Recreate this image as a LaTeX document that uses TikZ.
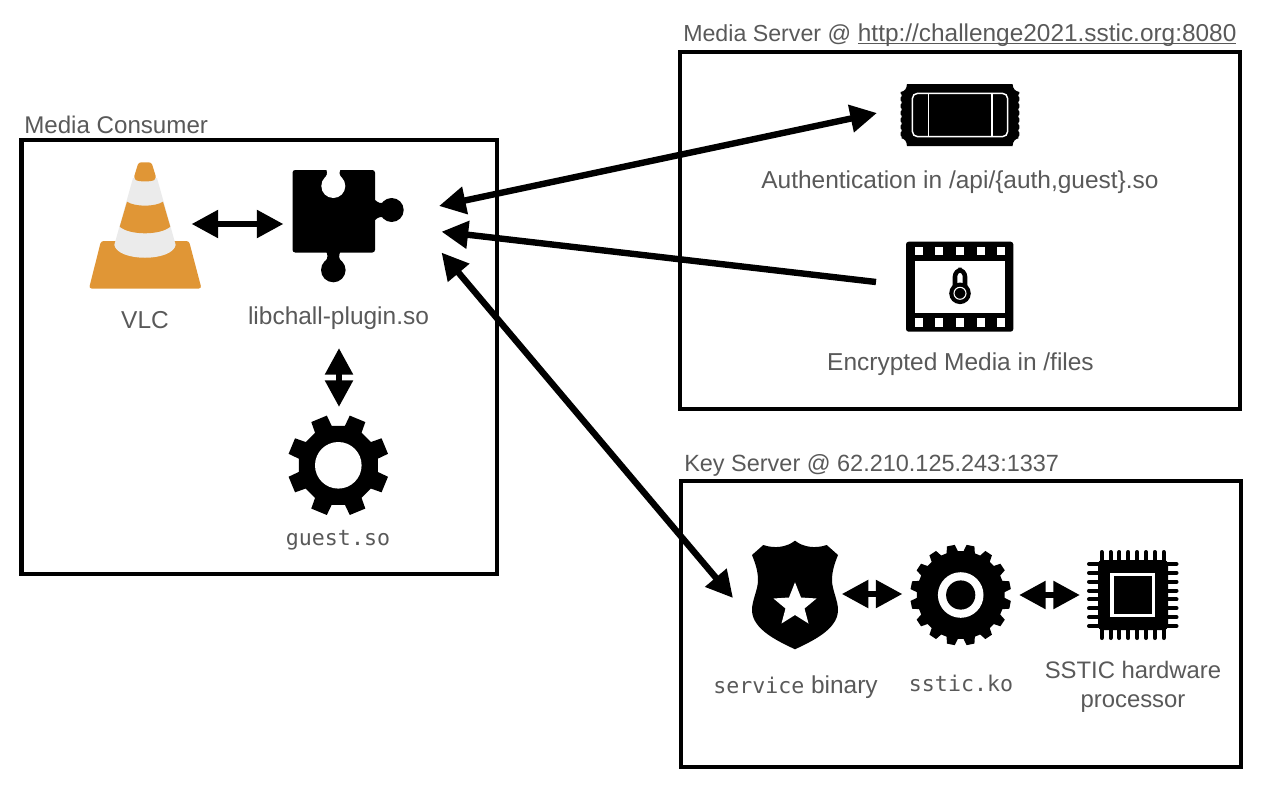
\documentclass[tikz,border=0pt]{standalone}
\usepackage{fontspec}
\setmainfont{Liberation Sans}
\setmonofont{DejaVu Sans Mono}
\usetikzlibrary{arrows.meta}
\definecolor{labelgray}{rgb}{0.35,0.35,0.35}
\definecolor{coneorange}{rgb}{0.88,0.59,0.21}
\definecolor{conewhite}{rgb}{0.92,0.92,0.92}
\tikzset{
  serverbox/.style={draw=black,line width=3.4pt},
  caption/.style={text=labelgray,font=\fontsize{18.35}{21.6}\selectfont,inner sep=0pt,align=center},
  monocap/.style={text=labelgray,font=\fontsize{16.2}{20}\ttfamily,inner sep=0pt},
  link/.style={line width=4.8pt,draw=black},
  bothway/.style={link,{Triangle[length=20pt,width=20pt]}-{Triangle[length=20pt,width=20pt]}},
  oneway/.style={link,-{Triangle[length=20pt,width=20pt]}}
}
\newsavebox{\urlbox}
\newcommand{\urlline}[1]{\sbox\urlbox{#1}\usebox\urlbox\llap{\rule[-2.2pt]{\wd\urlbox}{0.8pt}}}
% #1,#2 centre, #3 teeth, #4 offset, #5 outer, #6 root, #7 half top, #8 half base
\newcommand{\gearicon}[8]{
  \begin{scope}[shift={(#1,#2)}]
    \fill[black] (#4-#8:#6) \foreach \k in {1,...,#3} {
      -- ({#4+(\k-1)*360/#3-#8}:#6) -- ({#4+(\k-1)*360/#3-#7}:#5)
      -- ({#4+(\k-1)*360/#3+#7}:#5) -- ({#4+(\k-1)*360/#3+#8}:#6)
    } -- cycle;
  \end{scope}
}
\begin{document}
\begin{tikzpicture}[x=0.75pt,y=-0.75pt]
\useasboundingbox (0,0) rectangle (1261,789);

% the three hosts
\node (consumerbox) [serverbox,minimum width=356.5pt,minimum height=325.5pt,inner sep=0pt] at (259.3,357.2) {};
\node (mediabox) [serverbox,minimum width=420pt,minimum height=267.75pt,inner sep=0pt] at (960,230.5) {};
\node (keybox) [serverbox,minimum width=420pt,minimum height=214.5pt,inner sep=0pt] at (961,624) {};
\node (consumertxt) [caption,anchor=west,font=\fontsize{18.1}{21}\selectfont] at (24,125) {Media Consumer};
\node (mediatxt) [caption,anchor=west] at (683,35) {\fontsize{17.4}{21}\selectfont Media Server @\hspace{5pt}\fontsize{18.3}{21}\selectfont\urlline{http://challenge2021.sstic.org:8080}};
\node (keytxt) [caption,anchor=west,font=\fontsize{17.6}{21}\selectfont] at (684,465) {Key Server @ 62.210.125.243:1337};

% cone
\fill[coneorange,rounded corners=2pt] (101,241) -- (189,241) -- (201.5,288.5) -- (89,288.5) -- cycle;
\fill[conewhite] (133,178) -- (157,178) -- (175.7,245) .. controls (172,262) and (118,262) .. (114.3,245) -- cycle;
\fill[coneorange,rounded corners=2pt] (138.5,162.3) -- (151.5,162.3) -- (156.3,178) .. controls (152,182) and (138,182) .. (133.7,178) -- cycle;
\fill[coneorange] (127,201.7) .. controls (135,207) and (155,207) .. (163,201.7) -- (170.3,226.7) .. controls (160,235.5) and (130,235.5) .. (119.7,226.7) -- cycle;

% puzzle piece
\fill[black,rounded corners=2pt] (292.5,170) rectangle (375,252.5);
\fill[white] (333.3,186) circle[radius=12];
\fill[white] (326,168) .. controls (327,171) and (328,174) .. (325.5,177) -- (341,177) .. controls (338.6,174) and (339.6,171) .. (340.7,168) -- cycle;
\fill[black] (374,199) .. controls (378,203) and (381,204) .. (385,202) -- (385,218) .. controls (381,216) and (378,217) .. (374,221) -- cycle;
\fill[black] (391.7,210) circle[radius=12];
\fill[black] (326,251) .. controls (328,255) and (328,258) .. (325.5,261) -- (341,261) .. controls (338.6,258) and (338.6,255) .. (340.7,251) -- cycle;
\fill[black] (333.3,270) circle[radius=12.3];

% plain gear
\gearicon{338.3}{465.3}{8}{22.5}{51}{40}{9.5}{13}
\fill[white] (338.3,465.3) circle[radius=23.3];

% ticket
\fill[black] (907,84) -- (1012.5,84) .. controls (1013,89) and (1015,91) .. (1019.3,92) -- (1019.3,138) .. controls (1015,139) and (1013,141) .. (1012.5,146) -- (907,146) .. controls (906.5,141) and (905,139) .. (900.7,138) -- (900.7,92) .. controls (905,91) and (906.5,89) .. (907,84) -- cycle;
\foreach \yy in {95.5,102.5,109.5,116.5,123.5,130.5,137.5}{
  \fill[white] (899.7,\yy) circle[radius=2];
  \fill[white] (1020.3,\yy) circle[radius=2];
}
\draw[white,line width=1.1pt,rounded corners=4pt] (912.3,93.3) rectangle (1007.7,136.7);
\draw[white,line width=1.1pt] (928.7,93.3) -- (928.7,136.7);
\draw[white,line width=1.1pt] (992,93.3) -- (992,136.7);

% film strip and lock
\fill[black,rounded corners=2pt] (906,241.7) rectangle (1013.3,331.7);
\fill[white] (915,260.7) rectangle (1005,312.7);
\foreach \xx in {918.7,939.3,960,980.7,1001.3}{
  \fill[white] (\xx-4,246.7) rectangle (\xx+4,255);
  \fill[white] (\xx-4,318.3) rectangle (\xx+4,326.7);
}
\draw[black,line width=3.4pt,rounded corners=5pt] (955,290) -- (955,270) -- (965,270) -- (965,290);
\fill[black] (960,293.3) circle[radius=10.8];
\draw[white,line width=0.8pt] (960,293.3) circle[radius=6];

% badge
\fill[black] (795,540.7) .. controls (787,547) and (775,549) .. (763.3,545) -- (752,555) .. controls (756,565) and (758,572) .. (758,580) .. controls (758,590) and (752,600) .. (752,610) .. controls (752,630) and (780,642) .. (795,649.3) .. controls (810,642) and (838,630) .. (838,610) .. controls (838,600) and (832,590) .. (832,580) .. controls (832,572) and (834,565) .. (838,555) -- (826.7,545) .. controls (815,549) and (803,547) .. (795,540.7) -- cycle;
\fill[white] (795,582.3) -- (801,597.5) -- (816.5,598.5) -- (804.5,608.5) -- (808.5,623.5) -- (795,615) -- (781.5,623.5) -- (785.5,608.5) -- (773.5,598.5) -- (789,597.5) -- cycle;

% ring gear
\gearicon{960.7}{595}{16}{11.25}{50.5}{44}{4.5}{7.5}
\fill[white] (960.7,595) circle[radius=22.8];
\fill[black] (960.7,595) circle[radius=14.6];

% chip
\foreach \dd in {-31,-22.1,-13.3,-4.4,4.4,13.3,22.1,31}{
  \draw[black,line width=3pt,line cap=round] (1132.7+\dd,552) -- (1132.7+\dd,638);
  \draw[black,line width=3pt,line cap=round] (1089,595+\dd) -- (1176.5,595+\dd);
}
\fill[black,rounded corners=3pt] (1098,560) rectangle (1168,630);
\draw[white,line width=2.8pt] (1112.2,574.4) rectangle (1153.5,615.6);

% labels
\node (vlctxt) [caption] at (145,320) {VLC};
\node (plugintxt) [caption] at (338.5,318) {libchall-plugin.so};
\node (guesttxt) [monocap] at (338,540) {guest.so};
\node (authtxt) [caption] at (960,182) {Authentication in /api/\{auth,guest\}.so};
\node (filestxt) [caption] at (960.5,364) {Encrypted Media in /files};
\node (servicetxt) [caption] at (795.5,687) {{\fontsize{16.2}{20}\ttfamily service} binary};
\node (ssticko) [monocap] at (961,683) {sstic.ko};
\node (hwtxt) [caption,font=\fontsize{17.9}{21.6}\selectfont] at (1133,686.5) {SSTIC hardware\\processor};

% ends of the connectors
\coordinate (vlcport) at (191.5,224);
\coordinate (pluginleft) at (283.5,224);
\coordinate (pluginauth) at (439,206);
\coordinate (pluginfiles) at (441.5,231.7);
\coordinate (pluginkey) at (441.5,252.5);
\coordinate (pluginbottom) at (339,348);
\coordinate (guesttop) at (339,407);
\coordinate (ticketport) at (877,113);
\coordinate (filmport) at (876,282);
\coordinate (badgein) at (733,598);
\coordinate (badgeout) at (841.7,594);
\coordinate (ringleft) at (902.5,594);
\coordinate (ringright) at (1019,595);
\coordinate (chipleft) at (1080,595);

\draw[bothway] (vlcport) -- (pluginleft);
\draw[bothway] (pluginbottom) -- (guesttop);
\draw[bothway] (pluginauth) -- (ticketport);
\draw[oneway] (filmport) -- (pluginfiles);
\draw[bothway] (pluginkey) -- (badgein);
\draw[bothway] (badgeout) -- (ringleft);
\draw[bothway] (ringright) -- (chipleft);
\end{tikzpicture}
\end{document}
